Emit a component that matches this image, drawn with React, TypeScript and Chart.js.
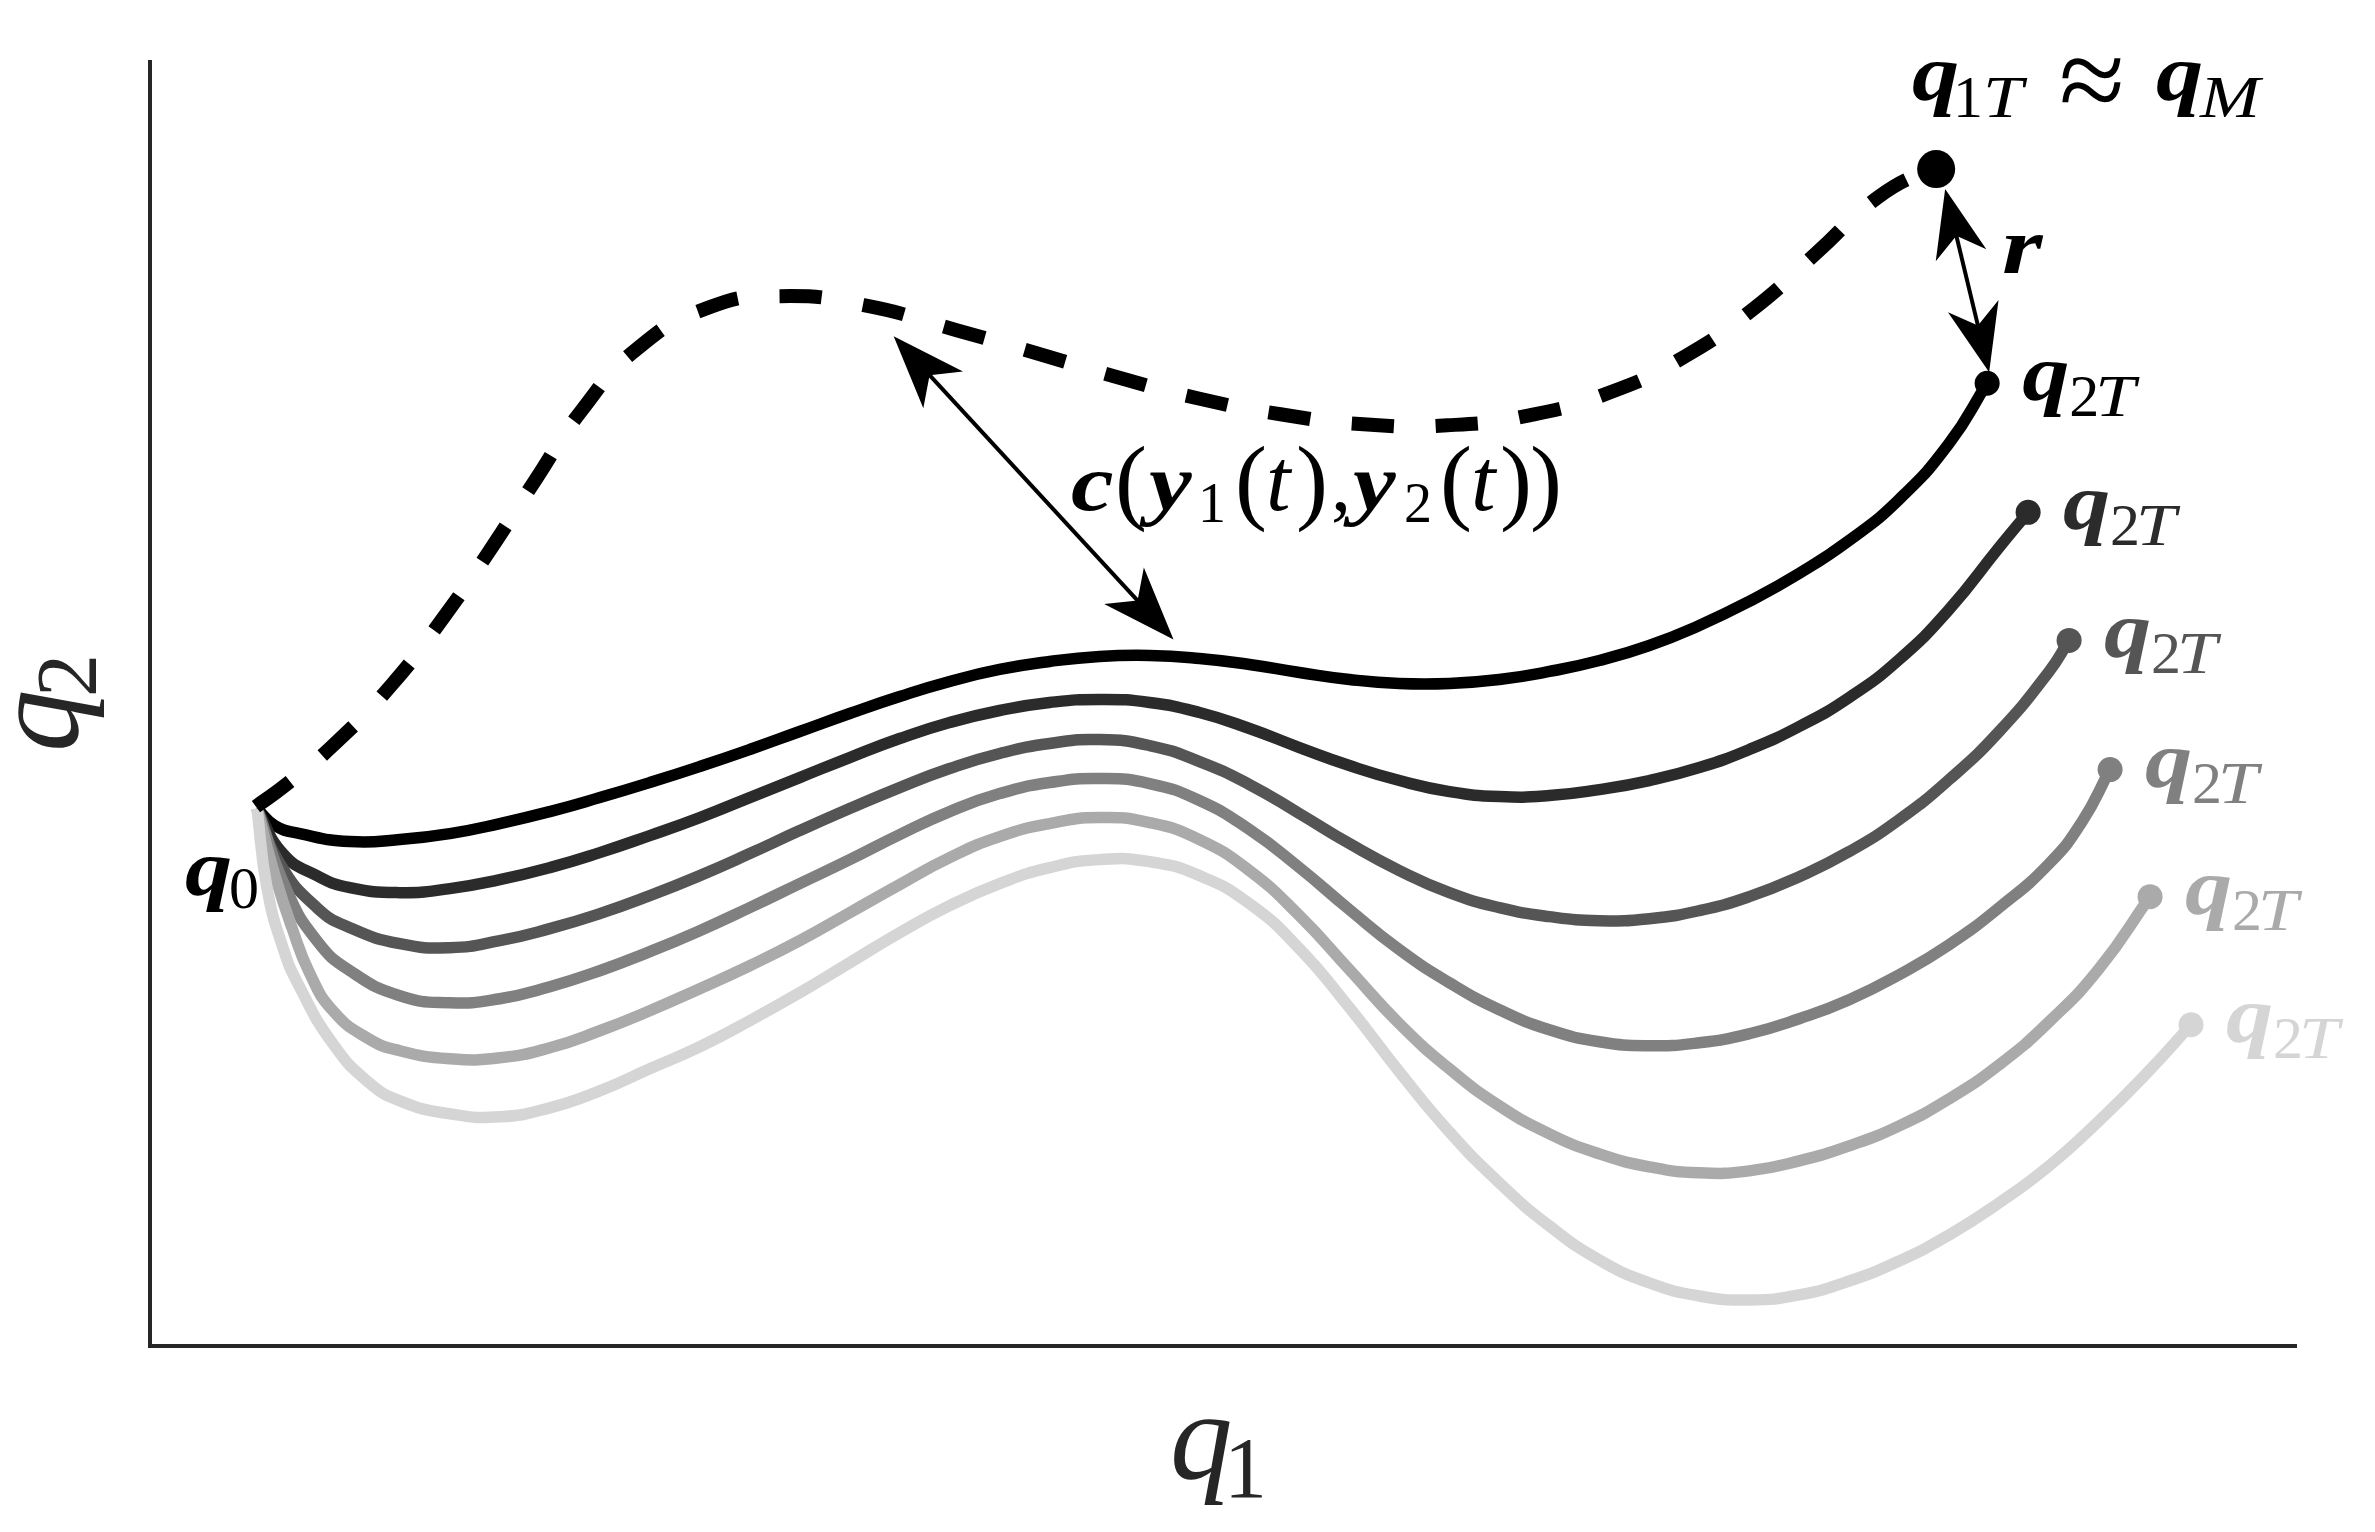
import React, { useEffect, useRef } from "react";
import { Chart, registerables } from "chart.js";

Chart.register(...registerables);

const curve1 = [[257,808],[275,825],[300,833],[350,841],[400,839],[450,833],[500,823],[550,811],[600,797],[650,782],[700,766],[750,749],[800,731],[850,713],[900,696],[950,681],[1000,669],[1050,661],[1100,656],[1150,655],[1200,658],[1250,664],[1300,672],[1350,679],[1400,683],[1450,683],[1500,679],[1550,671],[1600,660],[1650,645],[1700,625],[1750,601],[1800,573],[1850,540],[1900,499],[1950,443],[1988,383]];
const curve2 = [[257,808],[283,853],[317,875],[350,887],[400,892],[450,888],[500,879],[550,867],[600,852],[650,835],[700,817],[750,797],[800,777],[850,757],[900,738],[950,722],[1000,710],[1050,702],[1100,699],[1150,702],[1200,712],[1250,728],[1300,747],[1350,765],[1400,780],[1450,791],[1500,796],[1550,795],[1600,789],[1650,780],[1700,767],[1750,749],[1800,726],[1850,697],[1900,659],[1950,609],[2000,547],[2029,512]];
const curve3 = [[257,808],[280,863],[317,907],[350,927],[400,943],[450,947],[500,940],[550,928],[600,913],[650,895],[700,875],[750,853],[800,830],[850,808],[900,787],[950,768],[1000,753],[1050,743],[1100,739],[1150,745],[1200,761],[1250,784],[1300,813],[1350,843],[1400,870],[1450,892],[1500,907],[1550,916],[1600,920],[1650,918],[1700,910],[1750,896],[1800,876],[1850,851],[1900,819],[1950,779],[2000,731],[2050,671],[2070,640]];
const curve4 = [[257,808],[287,890],[317,940],[350,970],[400,995],[450,1002],[500,998],[550,986],[600,970],[650,951],[700,930],[750,907],[800,883],[850,859],[900,834],[950,811],[1000,793],[1050,782],[1100,778],[1150,783],[1200,800],[1250,829],[1300,867],[1350,909],[1400,949],[1450,982],[1500,1009],[1550,1029],[1600,1041],[1650,1045],[1700,1042],[1750,1033],[1800,1018],[1850,999],[1900,974],[1950,944],[2000,907],[2050,863],[2083,821],[2111,769]];
const curve5 = [[257,808],[275,875],[292,927],[310,973],[333,1010],[367,1037],[400,1050],[450,1058],[500,1057],[550,1047],[600,1030],[650,1010],[700,988],[750,965],[800,940],[850,912],[900,884],[950,857],[1000,836],[1050,823],[1100,817],[1150,822],[1200,839],[1250,870],[1300,915],[1350,969],[1400,1023],[1450,1068],[1500,1105],[1550,1133],[1600,1153],[1650,1166],[1700,1172],[1750,1170],[1800,1160],[1850,1145],[1900,1125],[1950,1098],[2000,1064],[2050,1021],[2100,968],[2151,896]];
const curve6 = [[257,808],[267,887],[283,947],[300,987],[333,1043],[367,1080],[400,1100],[450,1113],[500,1116],[550,1107],[600,1090],[650,1068],[700,1046],[750,1020],[800,992],[850,962],[900,932],[950,905],[1000,883],[1050,867],[1100,859],[1150,861],[1200,875],[1250,903],[1300,948],[1350,1007],[1400,1071],[1450,1131],[1500,1182],[1550,1225],[1600,1259],[1650,1282],[1700,1295],[1750,1299],[1800,1294],[1850,1280],[1900,1260],[1950,1234],[2000,1202],[2050,1165],[2100,1120],[2150,1070],[2192,1024]];
const dashedPath = [[256,806],[285,785],[333,745],[392,684],[443,618],[490,550],[536,479],[582,410],[638,348],[710,307],[781,296],[864,305],[957,330],[1037,353],[1118,377],[1198,398],[1281,414],[1364,424],[1448,425],[1530,415],[1611,392],[1686,356],[1755,308],[1817,253],[1879,197],[1937,165]];
const targetPoint = [[1937,169]];
const curves = [curve1, curve2, curve3, curve4, curve5, curve6];
const curveColors = ["#000000", "#2b2b2b", "#555555", "#808080", "#aaaaaa", "#d5d5d5"];

const q1Range = [150, 2297];
const q2Range = [62, 1345];

// Double-headed arrows, as [from, to] in chart values
const arrowR = [[1946,189],[1990,372]];
const arrowC = [[894,336],[1174,639]];

const AXIS = "#262626";
const BI = (s: number) => `italic bold ${s}px "Liberation Serif"`;
const IT = (s: number) => `italic ${s}px "Liberation Serif"`;
const RM = (s: number) => `${s}px "Liberation Serif"`;

type Run = [string, number, number, string, number?];
const q1TLabel: Run[] = [
  ["q", 1912, 100, BI(80), 1.18], ["1", 1953, 117, RM(60)], ["T", 1983, 117, IT(60), 1.2],
  ["≈", 2059, 120, RM(120)],
  ["q", 2156, 100, BI(80), 1.18], ["M", 2200, 117, IT(60), 1.2],
];
const q0Label: Run[] = [["q", 185, 895, BI(80), 1.18], ["0", 229, 908, RM(60)]];
const rLabel: Run[] = [["r", 2002, 273, BI(80), 1.3]];
const cLabel: Run[] = [
  ["c", 1071, 510, BI(80), 1.2], ["(", 1115, 512, RM(96)], ["y", 1149, 510, BI(80), 1.2], ["1", 1198, 522, RM(56)],
  ["(", 1235, 512, RM(96)], ["t", 1266, 510, IT(88)], [")", 1296, 512, RM(96)], [",", 1331, 510, RM(80)],
  ["y", 1353, 510, BI(80), 1.2], ["2", 1404, 522, RM(56)], ["(", 1440, 512, RM(96)], ["t", 1471, 510, IT(88)],
  [")", 1500, 512, RM(96)], [")", 1530, 512, RM(96)],
];
const q2TRuns: Run[] = [["q", 35, 17, BI(80), 1.18], ["2", 82, 33, RM(60)], ["T", 108, 33, IT(60), 1.2]];

function drawRuns(ctx: CanvasRenderingContext2D, runs: Run[], color: string, ox = 0, oy = 0) {
  ctx.fillStyle = color;
  ctx.textBaseline = "alphabetic";
  ctx.textAlign = "left";
  for (const [t, x, y, f, sx] of runs) {
    ctx.save();
    ctx.font = f;
    ctx.translate(x + ox, y + oy);
    ctx.scale(sx ?? 1, 1);
    ctx.fillText(t, 0, 0);
    ctx.restore();
  }
}

function head(ctx: CanvasRenderingContext2D, tx: number, ty: number, ux: number, uy: number, L: number, W: number, N: number) {
  const bx = tx - ux * L, by = ty - uy * L;
  ctx.beginPath();
  ctx.moveTo(tx, ty);
  ctx.lineTo(bx - uy * W, by + ux * W);
  ctx.lineTo(tx - ux * N, ty - uy * N);
  ctx.lineTo(bx + uy * W, by - ux * W);
  ctx.closePath();
  ctx.fill();
}

const annotations = {
  id: "annotations",
  afterDatasetsDraw(chart: any) {
    const ctx = chart.ctx as CanvasRenderingContext2D;
    const { x, y } = chart.scales;
    ctx.save();
    const specs: [number[][], number, number, number][] = [[arrowR, 68, 26, 48], [arrowC, 73, 27, 53]];
    for (const [a, L, W, N] of specs) {
      const x0 = x.getPixelForValue(a[0][0]), y0 = y.getPixelForValue(a[0][1]);
      const x1 = x.getPixelForValue(a[1][0]), y1 = y.getPixelForValue(a[1][1]);
      const d = Math.hypot(x1 - x0, y1 - y0);
      const ux = (x1 - x0) / d, uy = (y1 - y0) / d;
      ctx.strokeStyle = "#000";
      ctx.fillStyle = "#000";
      ctx.lineWidth = 4;
      ctx.beginPath();
      ctx.moveTo(x0 + ux * 40, y0 + uy * 40);
      ctx.lineTo(x1 - ux * 40, y1 - uy * 40);
      ctx.stroke();
      head(ctx, x0, y0, -ux, -uy, L, W, N);
      head(ctx, x1, y1, ux, uy, L, W, N);
    }
    drawRuns(ctx, q1TLabel, "#000");
    drawRuns(ctx, q0Label, "#000");
    drawRuns(ctx, rLabel, "#000");
    drawRuns(ctx, cLabel, "#000");
    curves.forEach((c, i) => {
      const p = c[c.length - 1];
      drawRuns(ctx, q2TRuns, curveColors[i], x.getPixelForValue(p[0]), y.getPixelForValue(p[1]));
    });
    // axis names
    drawRuns(ctx, [["q", 1170, 1478, IT(125)], ["1", 1224, 1497, RM(86)]], AXIS);
    ctx.translate(77, 752);
    ctx.rotate(-Math.PI / 2);
    drawRuns(ctx, [["q", 0, 0, IT(125)], ["2", 55, 19, RM(86)]], AXIS);
    ctx.restore();
  },
};

export default function App() {
  const ref = useRef<HTMLCanvasElement | null>(null);
  useEffect(() => {
    if (!ref.current) return;
    const toPts = (a: number[][]) => a.map(([x, y]) => ({ x, y }));
    const datasets: any[] = [
      {
        label: "q1",
        data: toPts(dashedPath),
        showLine: true,
        tension: 0.5,
        borderColor: "#000",
        borderWidth: 14,
        borderDash: [42, 42],
        borderCapStyle: "butt",
        pointRadius: 0,
        order: 0,
      },
      {
        label: "qM",
        data: toPts(targetPoint),
        showLine: false,
        backgroundColor: "#000",
        borderWidth: 0,
        pointRadius: 19,
        order: 0,
      },
      ...curves.map((c, i) => ({
        label: `q2 ${i + 1}`,
        data: toPts(c),
        showLine: true,
        tension: 0.5,
        borderColor: curveColors[i],
        backgroundColor: curveColors[i],
        borderWidth: 11.5,
        borderCapStyle: "butt",
        pointBorderWidth: 0,
        pointRadius: (ctx: any) => (ctx.dataIndex === c.length - 1 ? 12.5 : 0),
        order: 6 - i,
      })),
    ];
    const chart = new Chart(ref.current, {
      type: "scatter",
      data: { datasets },
      plugins: [annotations],
      options: {
        animation: false,
        responsive: false,
        devicePixelRatio: 1,
        layout: { padding: { left: 142, right: 79, top: 62, bottom: 178 } },
        plugins: { legend: { display: false }, tooltip: { enabled: false }, title: { display: false } },
        scales: {
          x: {
            type: "linear",
            min: q1Range[0],
            max: q1Range[1],
            grid: { display: false },
            ticks: { display: false },
            border: { display: true, color: AXIS, width: 4 },
          },
          y: {
            type: "linear",
            reverse: true,
            min: q2Range[0],
            max: q2Range[1],
            grid: { display: false },
            ticks: { display: false },
            border: { display: true, color: AXIS, width: 4 },
          },
        },
      },
    } as any);
    return () => chart.destroy();
  }, []);
  return (
    <canvas
      ref={ref}
      width={2375}
      height={1532}
      style={{ position: "absolute", left: 0, top: 0, width: 2375, height: 1532, background: "#fff" }}
    />
  );
}
